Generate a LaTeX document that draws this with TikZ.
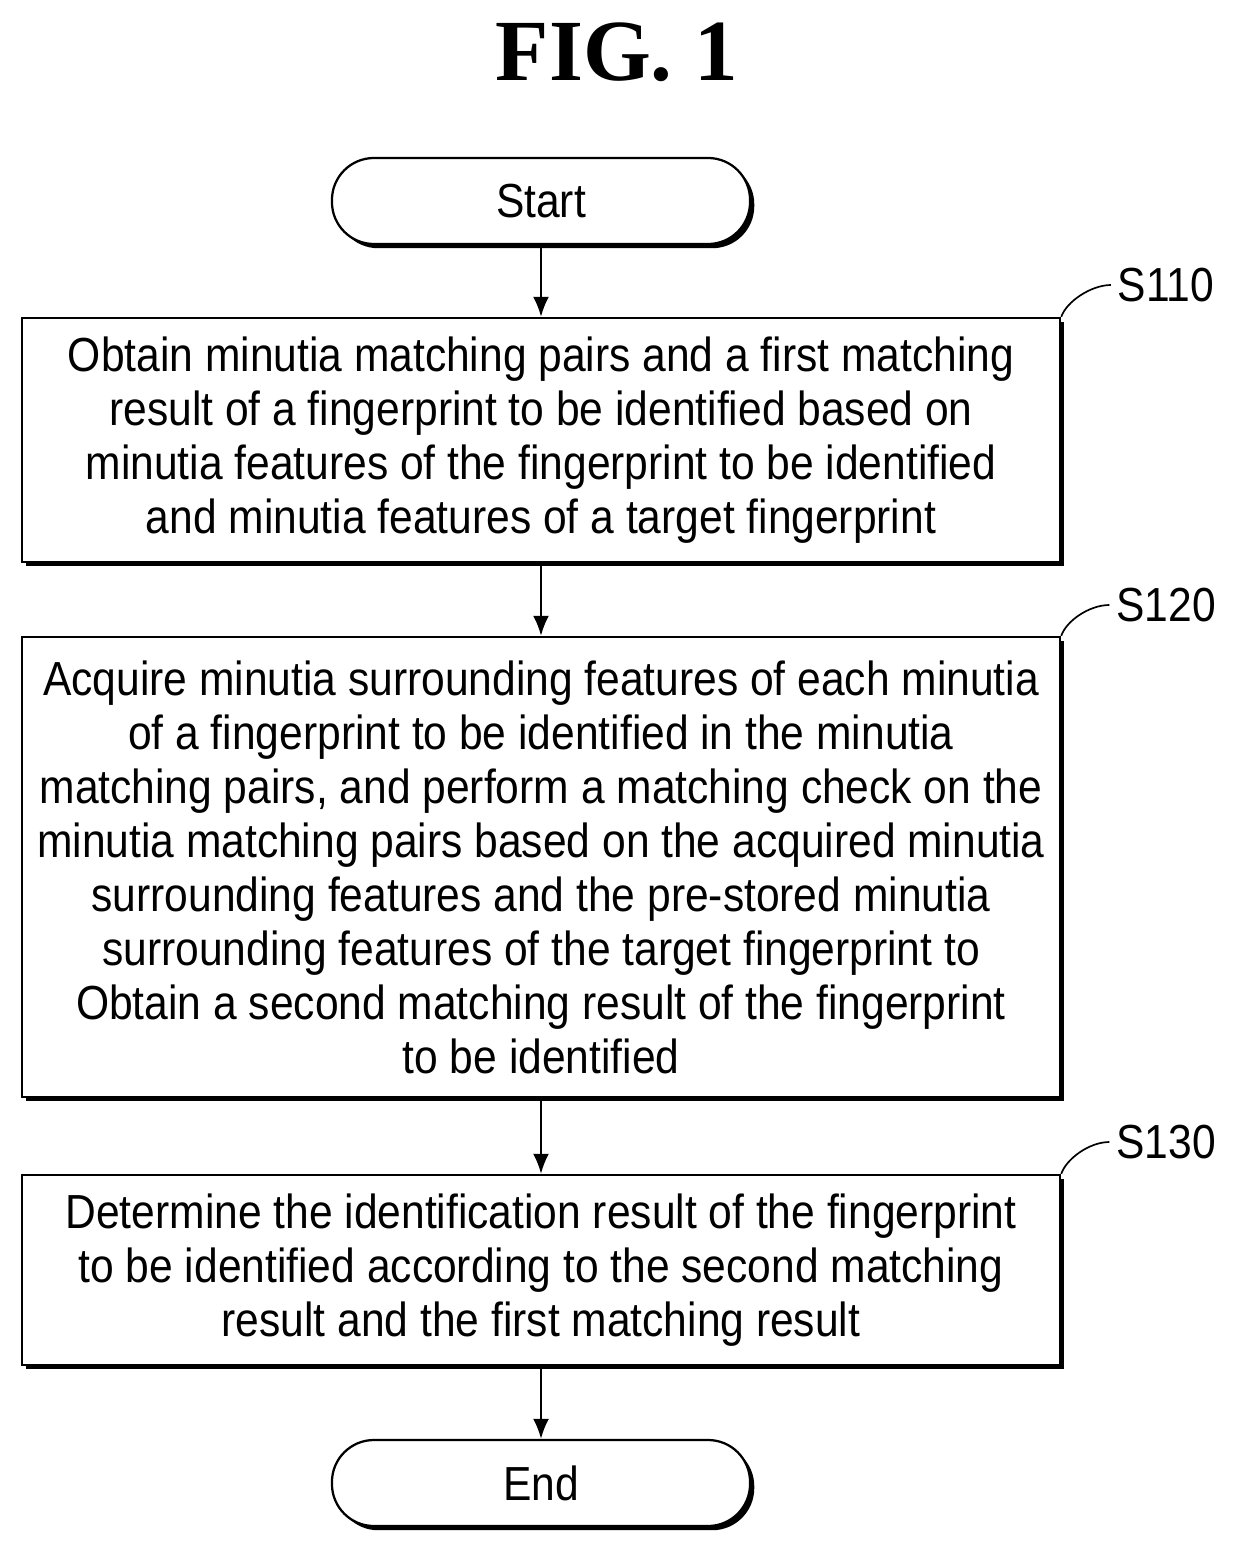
\documentclass[tikz,border=0pt]{standalone}
\usepackage{fontspec}
\setmainfont[FakeStretch=0.89]{Liberation Sans}
\newfontfamily\titlefont{Liberation Serif}
\usetikzlibrary{shadows,arrows.meta}
\tikzset{
  stepbox/.style={draw, line width=1.6pt, fill=white, align=center,
    general shadow={fill=black, shadow xshift=3pt, shadow yshift=-3pt},
    font=\fontsize{34}{38.4}\selectfont},
  termbox/.style={stepbox, rounded corners=1.05cm},
  flow/.style={-{Latex[length=0.5cm,width=0.4cm]}, line width=1.6pt},
  steplabel/.style={font=\fontsize{34}{38}\selectfont}
}
\begin{document}
\begin{tikzpicture}[x=0.025cm,y=-0.025cm]
  \useasboundingbox (0,0) rectangle (1236,1551);
  \node[font=\titlefont\bfseries\fontsize{62}{70}\selectfont] (title) at (617,52) {FIG. 1};

  \node[termbox, minimum width=10.45cm, minimum height=2.15cm] (start) at (541,201) {Start};
  \node[stepbox, minimum width=25.95cm, minimum height=6.1cm] (s110) at (541,440)
    {Obtain minutia matching pairs and a first matching\\
     result of a fingerprint to be identified based on\\
     minutia features of the fingerprint to be identified\\
     and minutia features of a target fingerprint};
  \node[stepbox, minimum width=25.95cm, minimum height=11.5cm] (s120) at (541,867)
    {Acquire minutia surrounding features of each minutia\\
     of a fingerprint to be identified in the minutia\\
     matching pairs, and perform a matching check on the\\
     minutia matching pairs based on the acquired minutia\\
     surrounding features and the pre-stored minutia\\
     surrounding features of the target fingerprint to\\
     Obtain a second matching result of the fingerprint\\
     to be identified};
  \node[stepbox, minimum width=25.95cm, minimum height=4.75cm] (s130) at (541,1270)
    {Determine the identification result of the fingerprint\\
     to be identified according to the second matching\\
     result and the first matching result};
  \node[termbox, minimum width=10.45cm, minimum height=2.15cm] (end) at (541,1483) {End};

  \draw[flow] (start) -- (s110);
  \draw[flow] (s110) -- (s120);
  \draw[flow] (s120) -- (s130);
  \draw[flow] (s130) -- (end);

  % step labels
  \node[steplabel] (l110) at (1166,285) {S110};
  \node[steplabel] (l120) at (1166,605) {S120};
  \node[steplabel] (l130) at (1166,1142) {S130};
  \foreach \s in {110,120,130}
    \draw[line width=1.2pt] (s\s.north east) .. controls +(5,-15) and +(-20,0) .. ([xshift=-0.05cm]l\s.west);
\end{tikzpicture}
\end{document}
